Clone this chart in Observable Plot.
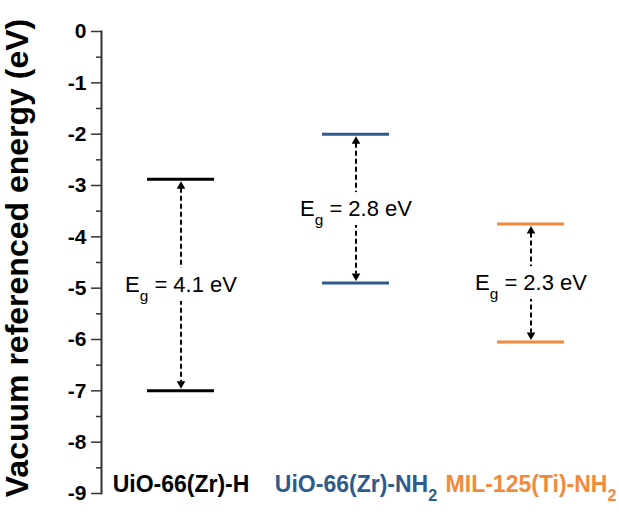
<!DOCTYPE html>
<html><head><meta charset="utf-8">
<script src="https://cdn.jsdelivr.net/npm/d3@7"></script>
<script src="https://cdn.jsdelivr.net/npm/@observablehq/plot@0.6"></script>
<style>body{margin:0;background:#fff}</style>
</head><body><div id="chart"></div>
<script>
// Data
const materials = ["UiO-66(Zr)-H", "UiO-66(Zr)-NH_2", "MIL-125(Ti)-NH_2"];
const cbEnergy = [-2.88, -2.0, -3.75];   // upper level (eV)
const vbEnergy = [-7.0, -4.9, -6.05];    // lower level (eV)
const gapLabels = ["4.1", "2.8", "2.3"]; // Eg (eV)
const yTicks = [0, -1, -2, -3, -4, -5, -6, -7, -8, -9];
const yMinorTicks = [-0.5, -1.5, -2.5, -3.5, -4.5, -5.5, -6.5, -7.5, -8.5];
const levelColors = ["#000000", "#2d5b8c", "#f28a3e"];

const rows = materials.map((name, i) => ({
  name, cb: cbEnergy[i], vb: vbEnergy[i], gap: gapLabels[i], color: levelColors[i]
}));

const gapText = d => `E_g = ${d.gap} eV`;
const gapY = d => (d.cb + d.vb) / 2;

const chart = Plot.plot({
  width: 619, height: 517,
  marginLeft: 101, marginRight: 9, marginTop: 31, marginBottom: 24,
  style: {fontFamily: "'Liberation Sans', Arial, sans-serif", background: "white", color: "black"},
  x: {domain: materials, paddingInner: 0.618, paddingOuter: 0.26, axis: null},
  y: {domain: [-9, 0], axis: null, label: null},
  color: {type: "identity"},
  marks: [
    Plot.frame({anchor: "left", stroke: "#333", strokeWidth: 2}),
    Plot.axisY({ticks: yTicks, tickSize: 10, tickPadding: 5, tickFormat: d => String(d),
      fontSize: 21, fontWeight: "bold", stroke: "#333", strokeWidth: 1.5, label: null}),
    Plot.axisY({ticks: yMinorTicks, tickSize: 5, tickFormat: () => "", stroke: "#333", strokeWidth: 1.5, label: null}),
    Plot.text(["Vacuum referenced energy (eV)"], {text: d => d, frameAnchor: "left", rotate: -90,
      textAnchor: "middle", lineAnchor: "bottom", dx: -74, dy: -4.5, fontSize: 32, fontWeight: "bold", fill: "black"}),
    // dashed arrows
    Plot.ruleX(rows, {x: "name", y1: "cb", y2: "vb", insetTop: 9, insetBottom: 9,
      stroke: "black", strokeWidth: 2, strokeDasharray: "5,3"}),
    Plot.dot(rows, {x: "name", y: "cb", dy: 7, symbol: "triangle", r: 3.2, fill: "black", stroke: null}),
    Plot.dot(rows, {x: "name", y: "vb", dy: -7, symbol: "triangle", rotate: 180, r: 3.2, fill: "black", stroke: null}),
    // energy levels
    Plot.tickY(rows, {x: "name", y: "cb", stroke: "color", strokeWidth: 3}),
    Plot.tickY(rows, {x: "name", y: "vb", stroke: "color", strokeWidth: 3}),
    // gap labels: white halo underneath, then the text
    Plot.text(rows, {x: "name", y: gapY, text: gapText,
      fontSize: 22, fill: "white", stroke: "white", strokeWidth: 18}),
    Plot.text(rows, {x: "name", y: gapY, text: gapText, fontSize: 22, fill: "black"}),
    // material labels
    Plot.text(rows, {x: "name", text: "name", frameAnchor: "bottom", lineAnchor: "bottom", dy: -2,
      fill: "color", fontSize: 23, fontWeight: "bold"})
  ]
});

// subscripts
const svgns = "http://www.w3.org/2000/svg";
d3.select(chart).selectAll("text").each(function() {
  const t = this.textContent;
  if (!t.includes("_")) return;
  const parts = t.split(/_(\w)/);
  this.textContent = "";
  parts.forEach((p, i) => {
    if (!p) return;
    const ts = document.createElementNS(svgns, "tspan");
    ts.textContent = p;
    if (i % 2 === 1) { ts.setAttribute("baseline-shift", "sub"); ts.setAttribute("font-size", "70%"); }
    this.appendChild(ts);
  });
});

document.getElementById("chart").appendChild(chart);
</script>
</body></html>
